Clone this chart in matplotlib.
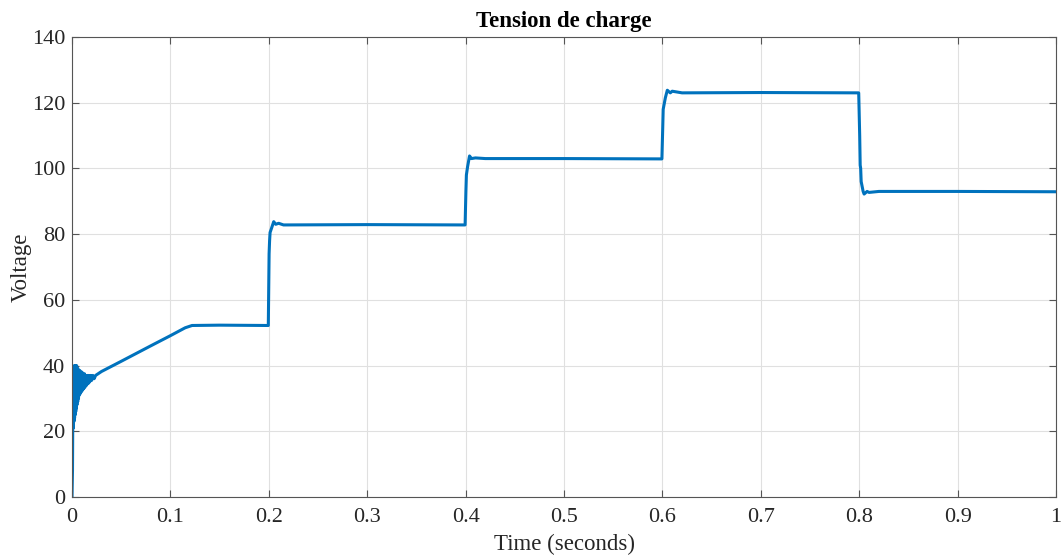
import matplotlib
matplotlib.use("Agg")
import matplotlib.pyplot as plt

# Hand-read key points of the load-voltage waveform (seconds, volts)
time_s = [0.0, 0.0005, 0.0008, 0.0011, 0.0014, 0.0017, 0.0020, 0.0023, 0.0026,
          0.0029, 0.0032, 0.0035, 0.0038, 0.0041, 0.0044, 0.0047, 0.0050,
          0.0054, 0.0058, 0.0062, 0.0066, 0.0070, 0.0075, 0.0080, 0.0085,
          0.0090, 0.0096, 0.0102, 0.0108, 0.0114, 0.0120, 0.0127, 0.0134,
          0.0141, 0.0148, 0.0156, 0.0164, 0.0172, 0.0180, 0.0190, 0.0200,
          0.0212, 0.0225, 0.0240, 0.0300, 0.0500, 0.0800, 0.1000, 0.1150,
          0.1220, 0.1500, 0.1995,
          0.2003, 0.2008, 0.2013, 0.2030, 0.2050, 0.2070, 0.2100, 0.2150,
          0.3000, 0.3995,
          0.4003, 0.4008, 0.4020, 0.4040, 0.4060, 0.4100, 0.4200, 0.5000, 0.5995,
          0.6003, 0.6008, 0.6030, 0.6050, 0.6080, 0.6100, 0.6200, 0.7000, 0.7995,
          0.8005, 0.8010, 0.8015, 0.8020, 0.8040, 0.8050, 0.8080, 0.8100,
          0.8200, 0.9000, 1.0000]
voltage = [0.0, 8.0, 24.0, 36.0, 21.0, 39.0, 23.0, 40.0, 24.0,
           39.5, 25.0, 40.0, 26.0, 39.0, 27.0, 40.0, 28.0,
           39.0, 29.0, 39.0, 30.0, 38.5, 31.0, 38.5, 31.5,
           38.0, 32.0, 38.0, 32.5, 37.5, 33.0, 37.5, 33.5,
           37.0, 34.0, 37.0, 34.5, 37.0, 35.0, 37.0, 35.5,
           37.0, 36.0, 37.0, 38.2, 41.3, 46.0, 49.1, 51.5,
           52.2, 52.3, 52.2,
           74.0, 78.0, 80.5, 82.0, 83.8, 83.0, 83.3, 82.8,
           82.9, 82.8,
           93.0, 98.0, 100.5, 103.8, 103.0, 103.2, 103.0, 103.0, 102.9,
           112.0, 118.0, 121.5, 123.8, 123.0, 123.5, 123.0, 123.1, 123.0,
           110.0, 101.0, 100.0, 96.0, 93.0, 92.2, 93.0, 92.7,
           93.0, 93.0, 92.9]

x_ticks = [0, 0.1, 0.2, 0.3, 0.4, 0.5, 0.6, 0.7, 0.8, 0.9, 1.0]
x_tick_labels = ["0", "0.1", "0.2", "0.3", "0.4", "0.5", "0.6", "0.7", "0.8", "0.9", "1"]
y_ticks = [0, 20, 40, 60, 80, 100, 120, 140]

plt.rcParams['font.family'] = ['Liberation Serif', 'DejaVu Serif']

fig = plt.figure(figsize=(10.63, 5.59), dpi=100)
ax = fig.add_axes([72/1063, 62/559, (1056-72)/1063, (497-37)/559])

ax.plot(time_s, voltage, color='#0072BD', linewidth=2.2)

ax.set_xlim(0, 1)
ax.set_ylim(0, 140)
ax.set_xticks(x_ticks)
ax.set_xticklabels(x_tick_labels)
ax.set_yticks(y_ticks)
ax.grid(True, color='#e0e0e0', linewidth=0.8)
ax.tick_params(direction='in', top=True, right=True, labelsize=16,
               colors='#555555', labelcolor='#262626', length=5, width=0.8)
ax.tick_params(axis='x', pad=8)
ax.tick_params(axis='y', pad=5)
for s in ax.spines.values():
    s.set_color('#555555')
    s.set_linewidth(0.8)

ax.set_title('Tension de charge', fontsize=16.5, fontweight='bold', pad=7)
ax.set_xlabel('Time (seconds)', fontsize=16.5, color='#262626', labelpad=5)
ax.set_ylabel('Voltage', fontsize=16.5, color='#262626', labelpad=0)

fig.savefig('out.png', dpi=100)
